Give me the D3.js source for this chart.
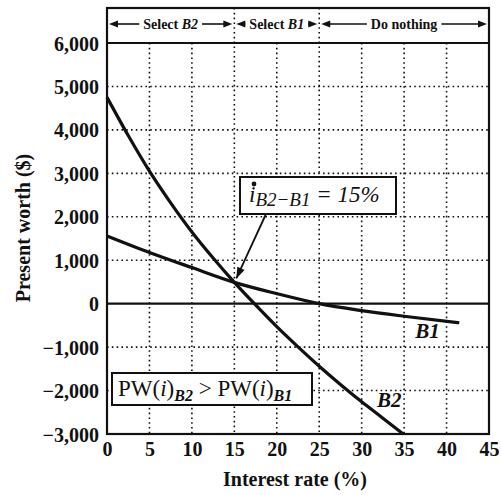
<!DOCTYPE html>
<html><head><meta charset="utf-8">
<script src="https://cdn.jsdelivr.net/npm/d3@7"></script>
<style>body{margin:0;background:#fff}svg{display:block}text{font-family:"Liberation Serif","Times New Roman",serif;fill:#111}</style>
</head><body>
<svg id="c" width="501" height="495"></svg>
<script>
const xTicks = [0,5,10,15,20,25,30,35,40,45];
const yTicks = [-3000,-2000,-1000,0,1000,2000,3000,4000,5000,6000];
const b1Rate = [0,5,10,15,20,25,30,35,41.5];
const b1PW   = [1560,1180,830,490,230,0,-160,-290,-440];
const b2Rate = [0,2.5,5,7.5,10,12.5,15,17.5,20,22.5,25,27.5,30,32.5,34.9];
const b2PW   = [4750,3870,3050,2320,1650,1050,490,-30,-530,-995,-1440,-1860,-2260,-2635,-3000];
const regions = [{from:0,to:15,label:"Select ",it:"B2"},{from:15,to:25,label:"Select ",it:"B1"},{from:25,to:45,label:"Do nothing",it:""}];
const crossRate = 15, crossPW = 490;

const svg = d3.select("#c");
const x = d3.scaleLinear().domain([0,45]).range([107,489]);
const y = d3.scaleLinear().domain([-3000,6000]).range([434,43]);
const topY = 8;
const ink = "#111";

// grid
const g = svg.append("g");
xTicks.filter(t=>t>0&&t<45).forEach(t=>{
  g.append("line").attr("x1",x(t)).attr("x2",x(t))
   .attr("y1",(t===15||t===25)?topY:y(6000)).attr("y2",y(-3000))
   .attr("stroke",ink).attr("stroke-width",1.6).attr("stroke-dasharray","1.6,3.2");
});
yTicks.filter(t=>t>-3000&&t<6000&&t!==0).forEach(t=>{
  g.append("line").attr("x1",x(0)).attr("x2",x(45)).attr("y1",y(t)).attr("y2",y(t))
   .attr("stroke",ink).attr("stroke-width",1.6).attr("stroke-dasharray","1.6,3.2");
});
// zero line
g.append("line").attr("x1",x(0)).attr("x2",x(45)).attr("y1",y(0)).attr("y2",y(0)).attr("stroke",ink).attr("stroke-width",2.2);
// frame
g.append("rect").attr("x",x(0)).attr("y",topY).attr("width",x(45)-x(0)).attr("height",y(-3000)-topY)
 .attr("fill","none").attr("stroke",ink).attr("stroke-width",2.2);
g.append("line").attr("x1",x(0)).attr("x2",x(45)).attr("y1",y(6000)).attr("y2",y(6000)).attr("stroke",ink).attr("stroke-width",2.2);

// axes labels
const yAxis = d3.axisLeft(y).tickValues(yTicks).tickSize(0).tickPadding(8)
  .tickFormat(d=> d<0 ? "\u2212"+d3.format(",")(-d) : d3.format(",")(d));
const ya = svg.append("g").attr("transform",`translate(${x(0)},0)`).call(yAxis);
ya.select(".domain").remove();
ya.selectAll("text").attr("font-size",20).attr("font-weight","bold").attr("dy","0.35em")
  .style("font-family","'Liberation Serif',serif").attr("fill",ink);
const xAxis = d3.axisBottom(x).tickValues(xTicks).tickSize(0).tickPadding(8);
const xa = svg.append("g").attr("transform",`translate(0,${y(-3000)})`).call(xAxis);
xa.select(".domain").remove();
xa.selectAll("text").attr("font-size",20).attr("font-weight","bold")
  .style("font-family","'Liberation Serif',serif").attr("fill",ink);

svg.append("text").attr("x",295).attr("y",486).attr("text-anchor","middle").attr("font-size",20).attr("font-weight","bold").text("Interest rate (%)");
svg.append("text").attr("transform","translate(30,228) rotate(-90)").attr("text-anchor","middle").attr("font-size",20).attr("font-weight","bold").text("Present worth ($)");

// curves
const line = d3.line().x(d=>x(d[0])).y(d=>y(d[1])).curve(d3.curveMonotoneX);
svg.append("path").datum(b2Rate.map((r,i)=>[r,b2PW[i]])).attr("d",line).attr("fill","none").attr("stroke",ink).attr("stroke-width",3.2);
svg.append("path").datum(b1Rate.map((r,i)=>[r,b1PW[i]])).attr("d",line).attr("fill","none").attr("stroke",ink).attr("stroke-width",3.2);

svg.append("text").attr("x",x(36.3)).attr("y",y(-800)).attr("font-size",21).attr("font-weight","bold").attr("font-style","italic").text("B1");
svg.append("text").attr("x",x(31.8)).attr("y",y(-2380)).attr("font-size",21).attr("font-weight","bold").attr("font-style","italic").text("B2");

// header arrows
function arrowHead(px,py,dir){
  svg.append("path").attr("d",`M${px},${py} L${px-dir*9},${py-3.5} L${px-dir*9},${py+3.5} Z`).attr("fill",ink);
}
const hy = 24;
regions.forEach(r=>{
  const x0 = x(r.from)+2, x1 = x(r.to)-2, cx=(x(r.from)+x(r.to))/2;
  const t = svg.append("text").attr("x",cx).attr("y",hy+5).attr("text-anchor","middle").attr("font-size",14).attr("font-weight","bold");
  t.append("tspan").text(r.label);
  if(r.it) t.append("tspan").attr("font-style","italic").text(r.it);
  const w = t.node().getComputedTextLength();
  svg.append("line").attr("x1",x0+4).attr("x2",cx-w/2-4).attr("y1",hy).attr("y2",hy).attr("stroke",ink).attr("stroke-width",1.6);
  svg.append("line").attr("x1",cx+w/2+4).attr("x2",x1-4).attr("y1",hy).attr("y2",hy).attr("stroke",ink).attr("stroke-width",1.6);
  arrowHead(x0,hy,-1); arrowHead(x1,hy,1);
});

// annotation 1
svg.append("rect").attr("x",240).attr("y",177).attr("width",156).attr("height",37).attr("fill","#fff").attr("stroke",ink).attr("stroke-width",2);
const a1 = svg.append("text").attr("x",249).attr("y",202).attr("font-size",23);
a1.append("tspan").attr("font-style","italic").text("i");
a1.append("tspan").attr("font-size",19).attr("font-style","italic").attr("dx",0).attr("dy",4).text("B2\u2212B1");
a1.append("tspan").attr("dy",-4).attr("font-size",23).attr("font-style","italic").text(" = 15%");
svg.append("circle").attr("cx",254).attr("cy",184).attr("r",2.4).attr("fill",ink);
// arrow to intersection
const ax0=266, ay0=214, ax1=x(crossRate)+2, ay1=y(crossPW)-4;
svg.append("line").attr("x1",ax0).attr("y1",ay0).attr("x2",ax1).attr("y2",ay1).attr("stroke",ink).attr("stroke-width",1.8);
{
  const ang = Math.atan2(ay1-ay0, ax1-ax0);
  const L=11, W=4;
  const bx = ax1 - L*Math.cos(ang), by = ay1 - L*Math.sin(ang);
  svg.append("path").attr("d",`M${ax1},${ay1} L${bx - W*Math.sin(ang)},${by + W*Math.cos(ang)} L${bx + W*Math.sin(ang)},${by - W*Math.cos(ang)} Z`).attr("fill",ink);
}

// annotation 2
svg.append("rect").attr("x",112).attr("y",373).attr("width",200).attr("height",32).attr("fill","#fff").attr("stroke",ink).attr("stroke-width",2);
const a2 = svg.append("text").attr("x",118).attr("y",396).attr("font-size",23);
a2.append("tspan").text("PW(");
a2.append("tspan").attr("font-style","italic").text("i");
a2.append("tspan").text(")");
a2.append("tspan").attr("font-size",16).attr("font-style","italic").attr("font-weight","bold").attr("dy",5).text("B2");
a2.append("tspan").attr("dy",-5).text(" > PW(");
a2.append("tspan").attr("font-style","italic").text("i");
a2.append("tspan").text(")");
a2.append("tspan").attr("font-size",16).attr("font-style","italic").attr("font-weight","bold").attr("dy",5).text("B1");
</script>
</body></html>
